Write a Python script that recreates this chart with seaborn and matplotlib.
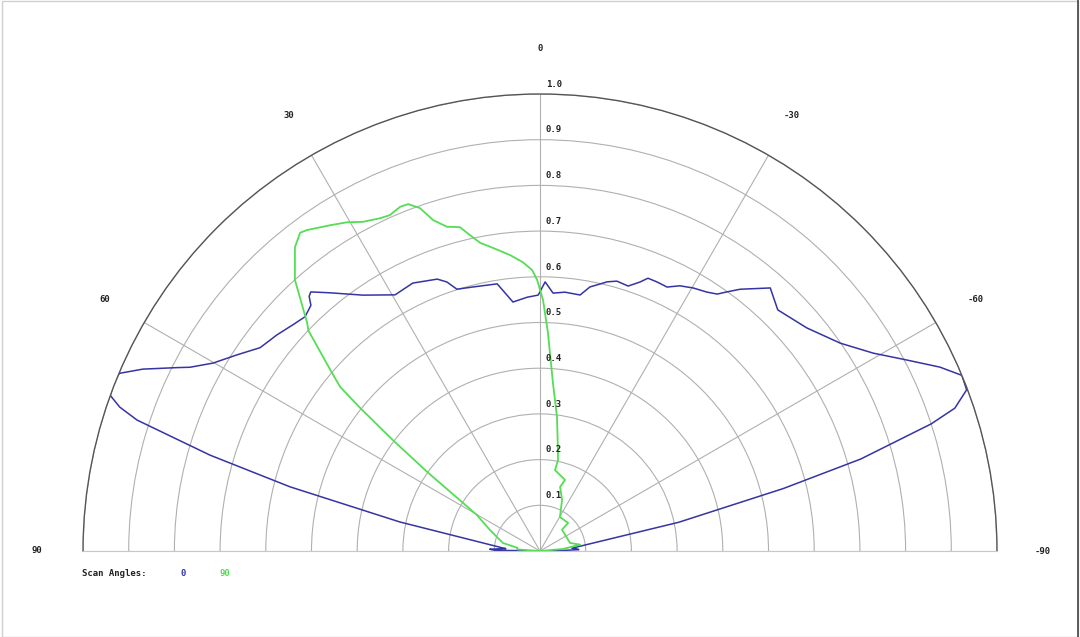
import numpy as np
import matplotlib
matplotlib.use("Agg")
import matplotlib.pyplot as plt
import seaborn as sns

# DATA (angle in degrees, normalised level)
blue_angle = [90, 89, 88, 87, 86, 85.4, 78.3, 75.6, 73.8, 72, 71.1, 70.1, 68.6, 67.1,
              65.4, 63.2, 62.3, 60.1, 57.1, 54, 50.6, 47.5, 45.1, 43.0, 42.2, 41.5,
              39.1, 34.7, 29.5, 25.4, 20.7, 19.1, 17.6, 14.2, 9.1, 6.2, 2.9, 0.4,
              -1.1, -2.9, -5.5, -8.9, -10.7, -12.7, -14, -15.9, -18.4, -20.4, -21.6,
              -23.5, -25.7, -27.8, -30.2, -32.8, -34.6, -35.8, -37.4, -41.2, -44.6,
              -50.1, -55.3, -59.3, -62.5, -65.3, -67.4, -69.3, -71, -72, -74, -75.6,
              -78.3, -85, -86.5, -88, -89, -90]
blue_level = [0.0, 0.10, 0.11, 0.09, 0.075, 0.081, 0.313, 0.565, 0.752, 0.927, 0.972,
              1.0, 1.006, 0.999, 0.956, 0.89, 0.865, 0.825, 0.79, 0.757, 0.745, 0.733,
              0.726, 0.735, 0.752, 0.757, 0.728, 0.681, 0.644, 0.649, 0.636, 0.623,
              0.601, 0.596, 0.592, 0.548, 0.556, 0.56, 0.589, 0.565, 0.569, 0.567,
              0.588, 0.599, 0.607, 0.614, 0.611, 0.628, 0.642, 0.642, 0.641, 0.656,
              0.666, 0.674, 0.683, 0.699, 0.721, 0.765, 0.741, 0.761, 0.799, 0.848,
              0.905, 0.963, 1.0, 0.998, 0.96, 0.9, 0.73, 0.55, 0.31, 0.07, 0.08,
              0.085, 0.04, 0.0]

green_angle = [90, 86, 82, 77.8, 67.2, 60.3, 58, 55, 53, 51.5, 50.6, 49.4, 46.4, 45.6,
               42.1, 38.9, 37, 36, 32.8, 30.4, 28.3, 25.7, 24.1, 22.1, 20.8, 19.3,
               17.9, 16, 13.9, 12.5, 11, 8.8, 5.8, 3.4, 1.6, 0.6, -0.7, -2.1, -4.4,
               -7.2, -10.1, -11.2, -10.5, -19.4, -17.4, -23.3, -30.5, -45, -46, -75,
               -81, -85, -90]
green_level = [0.0, 0.05, 0.05, 0.083, 0.119, 0.159, 0.199, 0.30, 0.403, 0.503, 0.566,
               0.60, 0.70, 0.713, 0.80, 0.854, 0.872, 0.868, 0.848, 0.834, 0.818,
               0.808, 0.805, 0.813, 0.812, 0.795, 0.761, 0.738, 0.73, 0.708, 0.687,
               0.671, 0.651, 0.633, 0.615, 0.593, 0.549, 0.477, 0.369, 0.296, 0.224,
               0.203, 0.18, 0.165, 0.147, 0.122, 0.086, 0.087, 0.067, 0.068, 0.089,
               0.05, 0.0]

theta_ticks = [90, 60, 30, 0, -30, -60, -90]
r_ticks = [0.1, 0.2, 0.3, 0.4, 0.5, 0.6, 0.7, 0.8, 0.9, 1.0]

blue = "#3434a4"
green = "#55dd55"
mono = "DejaVu Sans Mono"

sns.set_style("white")

fig = plt.figure(figsize=(10.8, 6.37), dpi=100)
# half wedge is drawn in the middle half of the box, so the box is twice as tall
ax = fig.add_axes([83/1080, -142.5/637, 914/1080, 914/637], projection="polar")
ax.set_theta_zero_location("N")
ax.set_theta_direction(1)
ax.set_thetamin(-90)
ax.set_thetamax(90)
ax.set_ylim(0, 1.0)
ax.set_aspect("auto")

# PLOT THE TWO SCAN ANGLES
sns.lineplot(x=np.deg2rad(blue_angle), y=blue_level, sort=False, estimator=None,
             color=blue, lw=1.1, ax=ax)
sns.lineplot(x=np.deg2rad(green_angle), y=green_level, sort=False, estimator=None,
             color=green, lw=1.3, ax=ax)

# GRID
ax.set_xticks(np.deg2rad(theta_ticks))
ax.set_xticklabels([])
ax.set_yticks(r_ticks)
ax.set_yticklabels([])
ax.grid(True, color="#b0b0b0", lw=0.8)
ax.spines["polar"].set_color("#555555")
ax.spines["polar"].set_linewidth(1.0)
ax.spines["start"].set_color("#c8c8c8")
ax.spines["end"].set_color("#c8c8c8")

for a in theta_ticks:
    ax.text(np.deg2rad(a), 1.1, str(a), ha="center", va="center",
            fontsize=6.5, family=mono, weight="bold", color="#222222")

for r in r_ticks:
    ax.annotate(f"{r:.1f}", xy=(0, r), xytext=(10, 7), textcoords="offset points",
                ha="center", va="center", fontsize=6.5, family=mono,
                weight="bold", color="#222222")

# LEGEND
fig.text(82/1080, 1 - 573/637, "Scan Angles:", ha="left", va="center",
         fontsize=6.5, family=mono, weight="bold", color="#222222")
fig.text(183/1080, 1 - 573/637, "0", ha="center", va="center",
         fontsize=6.5, family=mono, weight="bold", color=blue)
fig.text(225/1080, 1 - 573/637, "90", ha="center", va="center",
         fontsize=6.5, family=mono, weight="bold", color=green)

fig.patches.append(plt.Rectangle((0.002, 0.0), 0.996, 0.998, transform=fig.transFigure,
                                 fill=False, edgecolor="#d0d0d0", lw=1))
fig.add_artist(plt.Line2D([0.998, 0.998], [0, 1], transform=fig.transFigure,
                          color="#444444", lw=1.2))

fig.savefig("out.png", dpi=100)
